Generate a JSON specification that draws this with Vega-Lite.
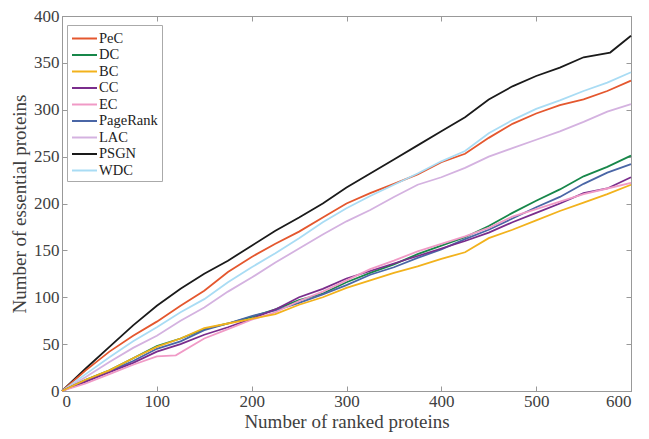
{
  "$schema": "https://vega.github.io/schema/vega-lite/v6.json",
  "autosize": "none",
  "width": 569,
  "height": 375,
  "padding": {"left": 62, "top": 16, "right": 18, "bottom": 48},
  "background": "white",
  "config": {
    "view": {"stroke": "#999", "strokeWidth": 1},
    "font": "Liberation Serif",
    "style": {
      "guide-label": {"font": "Liberation Serif, Times New Roman, serif", "fill": "#404040"},
      "guide-title": {"font": "Liberation Serif, Times New Roman, serif", "fill": "#404040"}
    },
    "axis": {
      "grid": false,
      "domainColor": "#999",
      "tickColor": "#999",
      "labelFont": "Liberation Serif, Times New Roman, serif",
      "labelFontSize": 17,
      "labelColor": "#404040",
      "titleFont": "Liberation Serif, Times New Roman, serif",
      "titleFontSize": 19,
      "titleFontWeight": "normal",
      "titleColor": "#404040"
    },
    "legend": {
      "labelFont": "Liberation Serif",
      "labelFontSize": 14.5,
      "labelColor": "#222"
    }
  },
  "data": {
    "values": [
      {"s":"PSGN","x":0,"y":0},{"s":"PSGN","x":25,"y":24},{"s":"PSGN","x":50,"y":47},{"s":"PSGN","x":75,"y":70},{"s":"PSGN","x":100,"y":91},{"s":"PSGN","x":125,"y":109},{"s":"PSGN","x":150,"y":125},{"s":"PSGN","x":175,"y":139},{"s":"PSGN","x":200,"y":155},{"s":"PSGN","x":225,"y":171},{"s":"PSGN","x":250,"y":185},{"s":"PSGN","x":275,"y":200},{"s":"PSGN","x":300,"y":217},{"s":"PSGN","x":325,"y":232},{"s":"PSGN","x":350,"y":247},{"s":"PSGN","x":375,"y":262},{"s":"PSGN","x":400,"y":277},{"s":"PSGN","x":425,"y":292},{"s":"PSGN","x":450,"y":311},{"s":"PSGN","x":475,"y":325},{"s":"PSGN","x":500,"y":336},{"s":"PSGN","x":525,"y":345},{"s":"PSGN","x":550,"y":356},{"s":"PSGN","x":578,"y":361},{"s":"PSGN","x":600,"y":379},
      {"s":"PeC","x":0,"y":0},{"s":"PeC","x":25,"y":22},{"s":"PeC","x":50,"y":42},{"s":"PeC","x":75,"y":59},{"s":"PeC","x":100,"y":74},{"s":"PeC","x":125,"y":91},{"s":"PeC","x":150,"y":107},{"s":"PeC","x":175,"y":127},{"s":"PeC","x":200,"y":143},{"s":"PeC","x":225,"y":157},{"s":"PeC","x":250,"y":170},{"s":"PeC","x":275,"y":185},{"s":"PeC","x":300,"y":200},{"s":"PeC","x":325,"y":211},{"s":"PeC","x":350,"y":221},{"s":"PeC","x":375,"y":231},{"s":"PeC","x":400,"y":244},{"s":"PeC","x":425,"y":253},{"s":"PeC","x":450,"y":270},{"s":"PeC","x":475,"y":285},{"s":"PeC","x":500,"y":296},{"s":"PeC","x":525,"y":305},{"s":"PeC","x":550,"y":311},{"s":"PeC","x":575,"y":320},{"s":"PeC","x":600,"y":331},
      {"s":"WDC","x":0,"y":0},{"s":"WDC","x":25,"y":18},{"s":"WDC","x":50,"y":36},{"s":"WDC","x":75,"y":53},{"s":"WDC","x":100,"y":68},{"s":"WDC","x":125,"y":84},{"s":"WDC","x":150,"y":98},{"s":"WDC","x":175,"y":116},{"s":"WDC","x":200,"y":132},{"s":"WDC","x":225,"y":147},{"s":"WDC","x":250,"y":163},{"s":"WDC","x":275,"y":180},{"s":"WDC","x":300,"y":195},{"s":"WDC","x":325,"y":208},{"s":"WDC","x":350,"y":220},{"s":"WDC","x":375,"y":232},{"s":"WDC","x":400,"y":245},{"s":"WDC","x":425,"y":256},{"s":"WDC","x":450,"y":275},{"s":"WDC","x":475,"y":289},{"s":"WDC","x":500,"y":301},{"s":"WDC","x":525,"y":310},{"s":"WDC","x":550,"y":320},{"s":"WDC","x":575,"y":329},{"s":"WDC","x":600,"y":340},
      {"s":"LAC","x":0,"y":0},{"s":"LAC","x":25,"y":15},{"s":"LAC","x":50,"y":31},{"s":"LAC","x":75,"y":46},{"s":"LAC","x":100,"y":59},{"s":"LAC","x":125,"y":75},{"s":"LAC","x":150,"y":89},{"s":"LAC","x":175,"y":106},{"s":"LAC","x":200,"y":121},{"s":"LAC","x":225,"y":137},{"s":"LAC","x":250,"y":152},{"s":"LAC","x":275,"y":167},{"s":"LAC","x":300,"y":181},{"s":"LAC","x":325,"y":193},{"s":"LAC","x":350,"y":207},{"s":"LAC","x":375,"y":220},{"s":"LAC","x":400,"y":228},{"s":"LAC","x":425,"y":238},{"s":"LAC","x":450,"y":250},{"s":"LAC","x":475,"y":259},{"s":"LAC","x":500,"y":268},{"s":"LAC","x":525,"y":277},{"s":"LAC","x":550,"y":287},{"s":"LAC","x":575,"y":298},{"s":"LAC","x":600,"y":306},
      {"s":"DC","x":0,"y":0},{"s":"DC","x":25,"y":12},{"s":"DC","x":50,"y":22},{"s":"DC","x":75,"y":35},{"s":"DC","x":100,"y":48},{"s":"DC","x":125,"y":56},{"s":"DC","x":150,"y":66},{"s":"DC","x":175,"y":72},{"s":"DC","x":200,"y":79},{"s":"DC","x":225,"y":87},{"s":"DC","x":250,"y":97},{"s":"DC","x":275,"y":104},{"s":"DC","x":300,"y":116},{"s":"DC","x":325,"y":126},{"s":"DC","x":350,"y":135},{"s":"DC","x":375,"y":146},{"s":"DC","x":400,"y":155},{"s":"DC","x":425,"y":164},{"s":"DC","x":450,"y":176},{"s":"DC","x":475,"y":190},{"s":"DC","x":500,"y":203},{"s":"DC","x":525,"y":215},{"s":"DC","x":550,"y":229},{"s":"DC","x":575,"y":239},{"s":"DC","x":600,"y":251},
      {"s":"PageRank","x":0,"y":0},{"s":"PageRank","x":25,"y":11},{"s":"PageRank","x":50,"y":21},{"s":"PageRank","x":75,"y":32},{"s":"PageRank","x":100,"y":45},{"s":"PageRank","x":125,"y":53},{"s":"PageRank","x":150,"y":65},{"s":"PageRank","x":175,"y":72},{"s":"PageRank","x":200,"y":80},{"s":"PageRank","x":225,"y":86},{"s":"PageRank","x":250,"y":94},{"s":"PageRank","x":275,"y":103},{"s":"PageRank","x":300,"y":113},{"s":"PageRank","x":325,"y":124},{"s":"PageRank","x":350,"y":132},{"s":"PageRank","x":375,"y":142},{"s":"PageRank","x":400,"y":151},{"s":"PageRank","x":425,"y":162},{"s":"PageRank","x":450,"y":172},{"s":"PageRank","x":475,"y":184},{"s":"PageRank","x":500,"y":196},{"s":"PageRank","x":525,"y":207},{"s":"PageRank","x":550,"y":221},{"s":"PageRank","x":575,"y":233},{"s":"PageRank","x":600,"y":242},
      {"s":"CC","x":0,"y":0},{"s":"CC","x":25,"y":10},{"s":"CC","x":50,"y":20},{"s":"CC","x":75,"y":30},{"s":"CC","x":100,"y":42},{"s":"CC","x":125,"y":50},{"s":"CC","x":150,"y":60},{"s":"CC","x":175,"y":68},{"s":"CC","x":200,"y":77},{"s":"CC","x":225,"y":87},{"s":"CC","x":250,"y":100},{"s":"CC","x":275,"y":109},{"s":"CC","x":300,"y":120},{"s":"CC","x":325,"y":128},{"s":"CC","x":350,"y":136},{"s":"CC","x":375,"y":144},{"s":"CC","x":400,"y":152},{"s":"CC","x":425,"y":160},{"s":"CC","x":450,"y":169},{"s":"CC","x":475,"y":180},{"s":"CC","x":500,"y":190},{"s":"CC","x":525,"y":200},{"s":"CC","x":550,"y":211},{"s":"CC","x":575,"y":216},{"s":"CC","x":600,"y":228},
      {"s":"EC","x":0,"y":0},{"s":"EC","x":25,"y":8},{"s":"EC","x":50,"y":18},{"s":"EC","x":75,"y":28},{"s":"EC","x":100,"y":37},{"s":"EC","x":120,"y":38},{"s":"EC","x":150,"y":56},{"s":"EC","x":175,"y":66},{"s":"EC","x":200,"y":76},{"s":"EC","x":225,"y":84},{"s":"EC","x":250,"y":96},{"s":"EC","x":275,"y":106},{"s":"EC","x":300,"y":118},{"s":"EC","x":325,"y":130},{"s":"EC","x":350,"y":139},{"s":"EC","x":375,"y":149},{"s":"EC","x":400,"y":157},{"s":"EC","x":425,"y":165},{"s":"EC","x":450,"y":174},{"s":"EC","x":475,"y":186},{"s":"EC","x":500,"y":194},{"s":"EC","x":525,"y":202},{"s":"EC","x":550,"y":210},{"s":"EC","x":575,"y":216},{"s":"EC","x":600,"y":222},
      {"s":"BC","x":0,"y":0},{"s":"BC","x":25,"y":12},{"s":"BC","x":50,"y":22},{"s":"BC","x":75,"y":35},{"s":"BC","x":100,"y":47},{"s":"BC","x":125,"y":56},{"s":"BC","x":150,"y":67},{"s":"BC","x":175,"y":72},{"s":"BC","x":200,"y":77},{"s":"BC","x":225,"y":82},{"s":"BC","x":250,"y":92},{"s":"BC","x":275,"y":100},{"s":"BC","x":300,"y":110},{"s":"BC","x":325,"y":118},{"s":"BC","x":350,"y":126},{"s":"BC","x":375,"y":133},{"s":"BC","x":400,"y":141},{"s":"BC","x":425,"y":148},{"s":"BC","x":450,"y":163},{"s":"BC","x":475,"y":172},{"s":"BC","x":500,"y":182},{"s":"BC","x":525,"y":192},{"s":"BC","x":550,"y":201},{"s":"BC","x":575,"y":210},{"s":"BC","x":600,"y":220}
    ]
  },
  "layer": [
    {
      "mark": {"type": "line", "strokeWidth": 1.8},
      "encoding": {
        "x": {"field": "x", "type": "quantitative", "scale": {"domain": [0, 600], "nice": false},
              "axis": {"title": "Number of ranked proteins", "values": [0,100,200,300,400,500,600], "tickSize": -5, "labelPadding": 7, "titlePadding": 3}},
        "y": {"field": "y", "type": "quantitative", "scale": {"domain": [0, 400], "nice": false},
              "axis": {"title": "Number of essential proteins", "values": [0,50,100,150,200,250,300,350,400], "tickSize": -5, "labelPadding": 8, "titlePadding": 4}},
        "color": {"field": "s", "type": "nominal",
          "scale": {"domain": ["PeC","DC","BC","CC","EC","PageRank","LAC","PSGN","WDC"],
                    "range": ["#e4572e","#17874a","#f2b21c","#7a2d8c","#f09ac6","#4a66a6","#d4b2e0","#1a1a1a","#a9dcf4"]},
          "legend": {"title": null, "orient": "none", "legendX": 5, "legendY": 9,
                     "symbolType": "M-1,0H1.94", "symbolSize": 289, "symbolStrokeWidth": 2,
                     "rowPadding": 0.5, "labelOffset": 9, "padding": 4,
                     "strokeColor": "#aaa", "fillColor": "white"}},
        "detail": {"field": "s"}
      }
    },
    {
      "mark": {"type": "line", "opacity": 0},
      "encoding": {
        "x": {"field": "x", "type": "quantitative", "scale": {"domain": [0, 600], "nice": false},
              "axis": {"orient": "top", "title": null, "labels": false, "domain": false, "values": [0,100,200,300,400,500,600], "tickSize": -5}},
        "y": {"field": "y", "type": "quantitative", "scale": {"domain": [0, 400], "nice": false},
              "axis": {"orient": "right", "title": null, "labels": false, "domain": false, "values": [0,50,100,150,200,250,300,350,400], "tickSize": -5}},
        "detail": {"field": "s"}
      }
    }
  ],
  "resolve": {"axis": {"x": "independent", "y": "independent"}}
}
